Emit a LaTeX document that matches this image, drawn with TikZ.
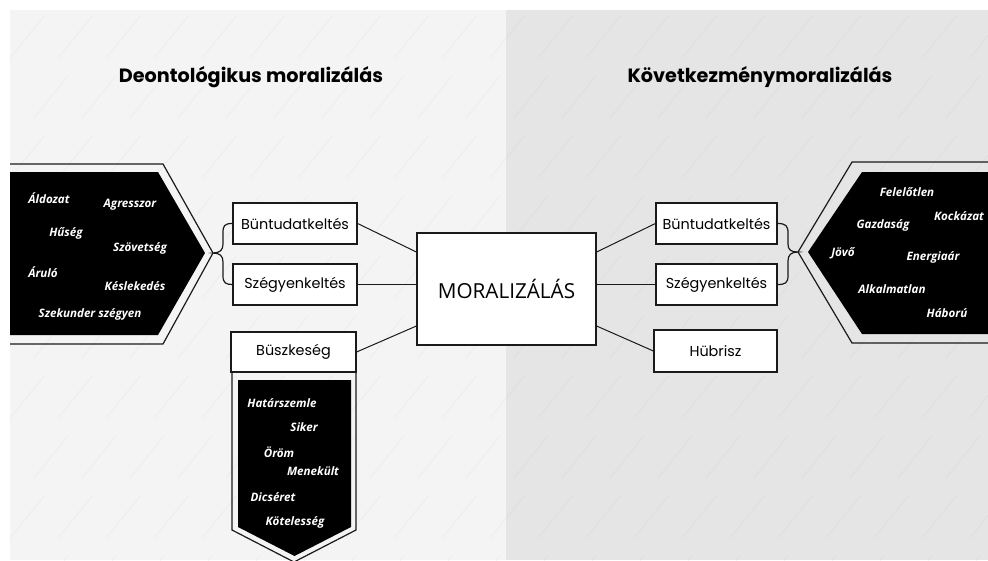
\documentclass[tikz,border=0pt]{standalone}
\usepackage{fontspec}
\setmainfont{Poppins}
\newfontfamily\opensans{Open Sans}
\usetikzlibrary{calc}

\definecolor{leftbg}{HTML}{F4F4F4}
\definecolor{rightbg}{HTML}{E5E5E5}
\definecolor{ink}{HTML}{1A1A1A}

\tikzset{
  box/.style={draw=ink, line width=1.2pt, fill=white, minimum width=124pt,
    minimum height=41pt, inner sep=0pt, font=\fontsize{14.4}{17}\selectfont},
  word/.style={text=white, inner sep=0pt,
    font=\opensans\bfseries\itshape\fontsize{11.6}{14}\selectfont},
  heading/.style={inner sep=0pt, font=\bfseries\fontsize{19.2}{22}\selectfont},
  rim/.style={draw=ink, line width=1.2pt},
  link/.style={draw=ink, line width=1pt},
}

\begin{document}
\begin{tikzpicture}[x=1pt,y=-1pt]
  \useasboundingbox (0,0) rectangle (988,560);
  % background panels
  \fill[white] (0,0) rectangle (988,560);
  \fill[leftbg] (10,10) rectangle (506,560);
  \fill[rightbg] (506,10) rectangle (988,560);
  \begin{scope}
    \clip (10,10) rectangle (988,560);
    \foreach \r in {0,...,9}{
      \foreach \c in {0,...,21}{
        \draw[gray, opacity=.08, line width=.6pt]
          ({10+\c*48+mod(\r,2)*24},{\r*60+58}) -- ++(34,-42);
      }
    }
  \end{scope}

  % headings
  \node[heading] (deon) at (251,77) {Deontológikus moralizálás};
  \node[heading] (kovet) at (760,77) {Következménymoralizálás};

  % left hexagon
  \draw[rim] (10,164) -- (163,164) -- (213,253) -- (163,344) -- (10,344);
  \fill[black] (10,172) -- (158,172) -- (205,253) -- (158,335) -- (10,335) -- cycle;
  \coordinate (ltip) at (213,253);

  % right hexagon
  \draw[rim] (988,162) -- (852,162) -- (798,252) -- (852,343) -- (988,343);
  \fill[black] (988,172) -- (862,172) -- (808,252) -- (862,334) -- (988,334) -- cycle;
  \coordinate (rtip) at (798,252);

  % pennant under Büszkeség
  \draw[rim] (232,372) -- (232,530) -- (294,562) -- (356,530) -- (356,372);
  \fill[black] (238,380) -- (351,380) -- (351,527) -- (294.5,556) -- (238,527) -- cycle;

  % boxes
  \node[box] (but1) at (295,223.5) {Büntudatkeltés};
  \node[box] (szeg1) at (295,284.5) {Szégyenkeltés};
  \node[box, minimum width=125pt, minimum height=40pt] (busz) at (293.5,352) {Büszkeség};
  \node[box, minimum width=179pt, minimum height=112pt,
        font=\opensans\fontsize{20.7}{24}\selectfont] (moral) at (506.5,289) {MORALIZÁLÁS};
  \node[box, minimum width=121pt] (but2) at (716.5,223.5) {Büntudatkeltés};
  \node[box, minimum width=121pt] (szeg2) at (716.5,284.5) {Szégyenkeltés};
  \node[box, minimum width=123pt, minimum height=42pt] (hub) at (715.5,351) {Hübrisz};

  % connectors
  \draw[link] (but1.east) -- ($(moral.west)+(0,-37)$);
  \draw[link] (szeg1.east) -- (moral.west |- szeg1.east);
  \draw[link] (busz.east) -- ($(moral.west)+(0,37)$);
  \draw[link] ($(moral.east)+(0,-37)$) -- (but2.west);
  \draw[link] (moral.east |- szeg2.west) -- (szeg2.west);
  \draw[link] ($(moral.east)+(0,37)$) -- (hub.west);

  % braces
  \draw[rim] (but1.west) .. controls (224,223.5) and (223,226) .. (223,233)
    -- (223,244) .. controls (223,250) and (220,253) .. (ltip)
    .. controls (220,253) and (223,256) .. (223,262)
    -- (223,276) .. controls (223,283) and (226,284.5) .. (szeg1.west);
  \draw[rim] (but2.east) .. controls (786,223.5) and (788,226) .. (788,233)
    -- (788,244) .. controls (788,250) and (791,252) .. (rtip)
    .. controls (791,252) and (788,255) .. (788,261)
    -- (788,276) .. controls (788,283) and (785,284.5) .. (szeg2.east);

  % left words
  \node[word] (aldozat) at (49,198) {Áldozat};
  \node[word] (agressz) at (130,205) {Agresszor};
  \node[word] (huseg) at (66,233) {Hűség};
  \node[word] (szovets) at (140,248) {Szövetség};
  \node[word] (arulo) at (43,272) {Áruló};
  \node[word] (kesle) at (135,286) {Késlekedés};
  \node[word] (szekund) at (90,314) {Szekunder szégyen};

  % pennant words
  \node[word] (hatar) at (282,403) {Határszemle};
  \node[word] (siker) at (304,427) {Siker};
  \node[word] (orom) at (279,452) {Öröm};
  \node[word] (menek) at (313,471) {Menekült};
  \node[word] (dicser) at (273,497) {Dicséret};
  \node[word] (kotel) at (295,522) {Kötelesség};

  % right words
  \node[word] (felelo) at (907,192) {Felelőtlen};
  \node[word] (kockaz) at (959,216) {Kockázat};
  \node[word] (gazdas) at (883,225) {Gazdaság};
  \node[word] (jovo) at (843,253) {Jövő};
  \node[word] (energ) at (933,257) {Energiaár};
  \node[word] (alkalm) at (892,289) {Alkalmatlan};
  \node[word] (haboru) at (947,313) {Háború};
\end{tikzpicture}
\end{document}
